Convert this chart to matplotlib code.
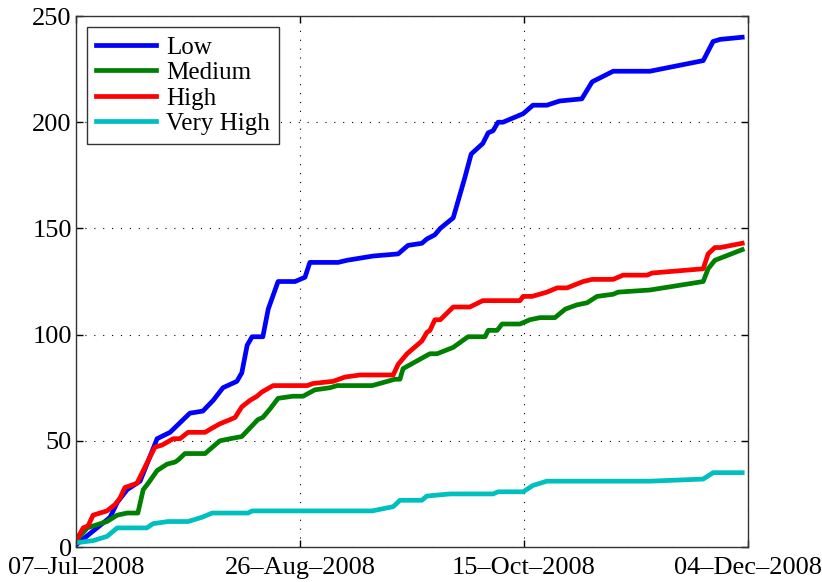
import numpy as np
import pandas as pd
import matplotlib
matplotlib.use('Agg')
import matplotlib.pyplot as plt

# days since 07-Jul-2008 and cumulative counts
low_days = [0, 7.6, 9.2, 11.4, 14.3, 18.1, 21, 25.4, 28.3, 30.6, 32.8, 35.9, 37, 38.2, 39.3,
            41.7, 42.9, 45.1, 48.9, 51.1, 52.2, 58.5, 60.5, 66.3, 71.9, 74.1, 77.2, 78.3,
            80.1, 81.3, 84.2, 86.8, 88.2, 90.8, 92, 93.1, 94.2, 95.3, 99.8, 102, 105.1,
            106.5, 108, 112.9, 115.2, 119.9, 128.1, 140, 142.2, 143.8, 148.7]
low_vals = [1, 14, 21, 27, 31, 51, 54, 63, 64, 69, 75, 78, 82, 95, 99,
            99, 112, 125, 125, 127, 134, 134, 135, 137, 138, 142, 143, 145,
            147, 150, 155, 174, 185, 190, 195, 196, 200, 200, 204, 208, 208,
            209, 210, 211, 219, 224, 224, 229, 238, 239, 240]

med_days = [0, 2.5, 6.9, 9.2, 11.4, 13.8, 15, 16.1, 18.1, 20.3, 22.1, 22.8, 24.3, 28.8,
            32.1, 34.4, 37, 38.8, 40.6, 41.7, 43.3, 45.1, 48.4, 50.7, 53.3, 56.7, 58.3,
            66.1, 71.2, 72.3, 73, 79, 80.6, 84.2, 87.5, 91.3, 92, 94, 95.1, 99.1, 101.3,
            103.6, 106.9, 109.2, 111.8, 114.1, 116.3, 119.9, 121, 128.1, 140, 141.1,
            142.6, 148.7]
med_vals = [3, 9, 12, 15, 16, 16, 27, 30, 36, 39, 40, 41, 44, 44,
            50, 51, 52, 56, 60, 61, 65, 70, 71, 71, 74, 75, 76,
            76, 79, 79, 84, 91, 91, 94, 99, 99, 102, 102, 105, 105, 107,
            108, 108, 112, 114, 115, 118, 119, 120, 121, 125, 131,
            135, 140]

high_days = [0, 1.6, 2.7, 3.8, 6.9, 8.7, 9.8, 10.9, 13.6, 15, 17.6, 19.2, 21.7, 23.2, 25,
             28.8, 30.4, 32.1, 34.4, 35.5, 37, 38.8, 40.4, 41.5, 44, 51.6, 52.9, 57.4, 60,
             63.4, 70.8, 71.9, 73.9, 77.2, 78.3, 79, 80.1, 81.3, 84.2, 87.9, 90.8, 99.1,
             99.8, 101.8, 105.1, 107.4, 109.6, 113.2, 115.2, 119.9, 122.1, 127.5, 128.6,
             140, 141.1, 142.6, 143.8, 148.7]
high_vals = [3, 9, 10, 15, 17, 20, 23, 28, 30, 36, 47, 48, 51, 51, 54,
             54, 56, 58, 60, 61, 66, 69, 71, 73, 76, 76, 77, 78, 80,
             81, 81, 86, 91, 97, 101, 102, 107, 107, 113, 113, 116, 116,
             118, 118, 120, 122, 122, 125, 126, 126, 128, 128, 129,
             131, 138, 141, 141, 143]

vhigh_days = [0, 3.8, 6.9, 9.2, 15.8, 17.2, 20.5, 25, 28.1, 30.4, 38.4, 39.3, 63.4, 66.1,
              70.8, 72.3, 77.2, 78.3, 83.5, 93.1, 94.2, 99.8, 102, 105.1, 128.1, 140,
              142.2, 148.7]
vhigh_vals = [2, 3, 5, 9, 9, 11, 12, 12, 14, 16, 16, 17, 17, 17,
              19, 22, 22, 24, 25, 25, 26, 26, 29, 31, 31, 32,
              35, 35]

tick_days = [0, 50, 100, 150]
tick_labels = ['07\u2013Jul\u20132008', '26\u2013Aug\u20132008',
               '15\u2013Oct\u20132008', '04\u2013Dec\u20132008']

start = pd.Timestamp('2008-07-07')
def to_dates(d):
    return start + pd.to_timedelta(np.array(d), unit='D')

plt.rcParams['font.family'] = ['Liberation Serif', 'DejaVu Serif']

fig = plt.figure(figsize=(8.22, 5.82), dpi=100)
ax = fig.add_axes([0.0925, 0.0601, 0.8175, 0.9124])

ax.plot(to_dates(low_days), low_vals, color=(0, 0, 1), lw=3.4, label='Low')
ax.plot(to_dates(med_days), med_vals, color=(0, 0.5, 0), lw=3.4, label='Medium')
ax.plot(to_dates(high_days), high_vals, color=(1, 0, 0), lw=3.4, label='High')
ax.plot(to_dates(vhigh_days), vhigh_vals, color=(0, 0.75, 0.75), lw=3.4, label='Very High')

ax.set_xlim(to_dates([0])[0], to_dates([150])[0])
ax.set_ylim(0, 250)
ax.set_xticks(to_dates(tick_days))
ax.set_xticklabels(tick_labels)
ax.set_yticks([0, 50, 100, 150, 200, 250])

ax.grid(True, color='black', linestyle=(0, (1, 7)), linewidth=0.8)
ax.tick_params(direction='in', top=True, right=True, length=5, width=1, labelsize=19)
ax.tick_params(axis='x', pad=7)
ax.tick_params(axis='y', pad=3)
for s in ax.spines.values():
    s.set_color('#333333')
    s.set_linewidth(1)

leg = ax.legend(loc='upper left', fontsize=18, handlelength=2.4, handletextpad=0.4,
                labelspacing=0.12, borderpad=0.35, fancybox=False, framealpha=1,
                edgecolor='#333333', borderaxespad=0.45)
leg.get_frame().set_linewidth(1)

fig.savefig('out.png', dpi=100)
